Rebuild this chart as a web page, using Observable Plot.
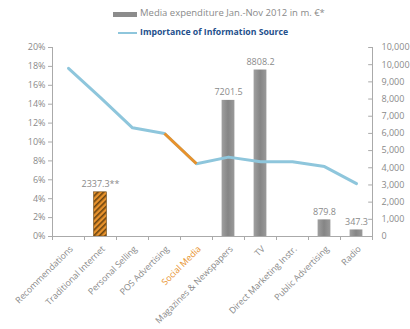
<!DOCTYPE html>
<html>
<head>
<meta charset="utf-8">
<script src="https://cdn.jsdelivr.net/npm/d3@7"></script>
<script src="https://cdn.jsdelivr.net/npm/@observablehq/plot@0.6"></script>
<style>
  body { margin: 0; background: #fff; font-family: "Open Sans", sans-serif; }
  #legend { position: relative; width: 410px; height: 40px; }
  .sw1 { position: absolute; left: 113px; top: 12px; width: 24px; height: 5px; background: #8c8c8c; }
  .t1 { position: absolute; left: 140px; top: 6px; font-size: 9.5px; color: #8a8a8a; white-space: nowrap; }
  .sw2 { position: absolute; left: 118px; top: 32px; width: 19px; height: 2px; background: #8ec6dc; }
  .t2 { position: absolute; left: 140px; top: 26px; font-size: 8.7px; font-weight: bold; color: #24508c; white-space: nowrap; }
</style>
</head>
<body>
<div id="legend">
  <div class="sw1"></div><div class="t1">Media expenditure Jan.-Nov 2012 in m. €*</div>
  <div class="sw2"></div><div class="t2">Importance of Information Source</div>
</div>
<div id="chart"></div>
<script>
const categories = ["Recommendations", "Traditional Internet", "Personal Selling", "POS Advertising", "Social Media", "Magazines & Newspapers", "TV", "Direct Marketing Instr.", "Public Advertising", "Radio"];
const importance = [17.8, 14.7, 11.5, 10.9, 7.7, 8.4, 7.9, 7.9, 7.4, 5.6];
const expenditure = [null, 2337.3, null, null, null, 7201.5, 8808.2, null, 879.8, 347.3];
const expenditureLabels = [null, "2337.3**", null, null, null, "7201.5", "8808.2", null, "879.8", "347.3"];
const leftTicks = [0, 2, 4, 6, 8, 10, 12, 14, 16, 18, 20];
const rightLabels = ["0", "1,000", "2,000", "3,000", "4,000", "5,000", "6,000", "7,000", "8,000", "9,000", "10,000", "10,000"];

const orange = "#e8922c";
const blue = "#8ec6dc";
const grey = "#8a8a8a";

const idx = d3.range(categories.length);
const bars = idx.filter(i => expenditure[i] != null).map(i => ({i, v: expenditure[i], label: expenditureLabels[i]}));
const linePts = idx.map(i => ({i, p: importance[i]}));
const social = categories.indexOf("Social Media");
const orangeSeg = linePts.filter(d => d.i === social - 1 || d.i === social);
const rightPos = rightLabels.map((_, k) => k * 20 / (rightLabels.length - 1));

const chart = Plot.plot({
  width: 410,
  height: 289,
  marginTop: 7,
  marginBottom: 93,
  marginLeft: 52,
  marginRight: 38,
  style: {fontFamily: "Open Sans, sans-serif", fontSize: "9px", color: grey, background: "white"},
  x: {type: "linear", domain: [-0.5, categories.length - 0.5], axis: null, label: null},
  y: {domain: [0, 20], axis: null, label: null},
  marks: [
    Plot.rectY(bars, {x1: d => d.i - 0.2, x2: d => d.i + 0.2, y: d => d.v / 500,
      fill: d => d.i === 1 ? "url(#hatch)" : "url(#greygrad)",
      stroke: d => d.i === 1 ? "#6b4410" : "none", strokeWidth: 0.6}),
    Plot.text(bars, {x: "i", y: d => d.v / 500, text: "label", dy: -5, lineAnchor: "bottom", fill: grey, fontSize: 9}),
    Plot.ruleX([-0.5], {stroke: "#aaa"}),
    Plot.ruleX([categories.length - 0.5], {stroke: "#aaa"}),
    Plot.ruleY([0], {stroke: "#aaa"}),
    Plot.axisY(leftTicks, {anchor: "left", label: null, tickSize: 4, tickPadding: 3, tickFormat: d => d + "%", stroke: "#aaa", fill: grey, fontSize: 9}),
    Plot.ruleY(rightPos, {x1: categories.length - 0.5 - 0.12, x2: categories.length - 0.5, stroke: "#aaa"}),
    Plot.text(rightPos, {x: categories.length - 0.5, y: d => d, text: (d, k) => rightLabels[k], textAnchor: "start", dx: 9, fill: grey, fontSize: 9}),
    Plot.axisX(d3.range(categories.length + 1).map(i => i - 0.5), {anchor: "bottom", label: null, tickSize: 4, tickFormat: () => "", stroke: "#aaa"}),
    Plot.text(idx, {x: d => d, y: 0, text: d => categories[d], rotate: -45, textAnchor: "end", lineAnchor: "middle", dx: 3, dy: 11,
      fill: d => d === social ? orange : grey, fontWeight: d => d === social ? "bold" : "normal", fontSize: 8.8}),
    Plot.line(linePts, {x: "i", y: "p", stroke: blue, strokeWidth: 3, strokeLinejoin: "round", strokeLinecap: "round"}),
    Plot.line(orangeSeg, {x: "i", y: "p", stroke: orange, strokeWidth: 3, strokeLinecap: "butt"})
  ]
});

const svgns = "http://www.w3.org/2000/svg";
const defs = document.createElementNS(svgns, "defs");
defs.innerHTML = `
  <pattern id="hatch" patternUnits="userSpaceOnUse" width="4" height="4" patternTransform="rotate(45)">
    <rect width="4" height="4" fill="${orange}"></rect>
    <rect width="1.6" height="4" fill="#6b4410"></rect>
  </pattern>
  <linearGradient id="greygrad" x1="0" x2="1" y1="0" y2="0">
    <stop offset="0" stop-color="#a0a0a0"></stop>
    <stop offset="0.5" stop-color="#858585"></stop>
    <stop offset="1" stop-color="#9a9a9a"></stop>
  </linearGradient>`;
chart.insertBefore(defs, chart.firstChild);
document.getElementById("chart").appendChild(chart);
</script>
</body>
</html>
